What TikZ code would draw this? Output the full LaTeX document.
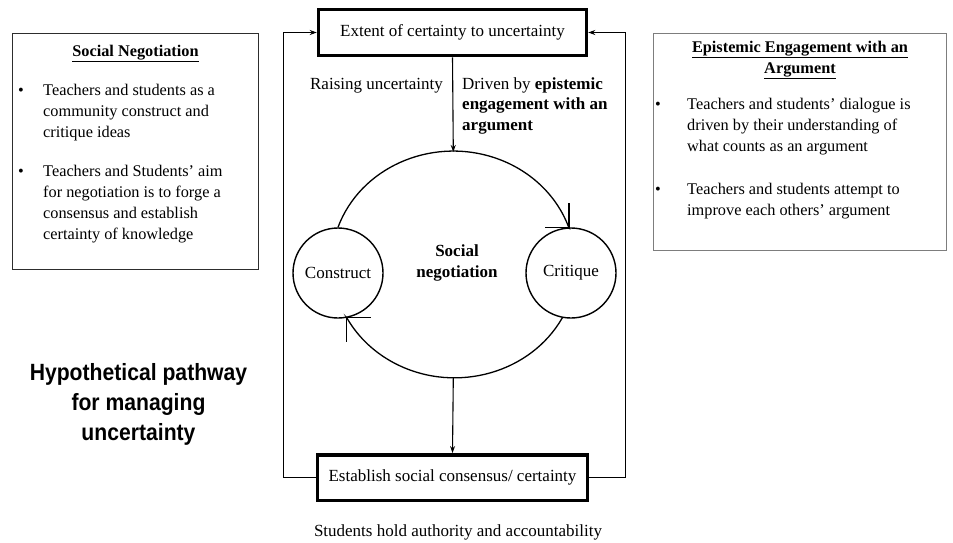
\documentclass[tikz,border=0pt]{standalone}
\usepackage{fontspec}
\setmainfont{Liberation Serif}
\newfontfamily\condsans[FakeStretch=0.9]{Liberation Sans}
\usepackage{tikz}
\usetikzlibrary{arrows.meta,positioning}
\usepackage{xcolor}
\definecolor{inkgray}{RGB}{45,45,45}
\definecolor{boxgray}{RGB}{125,125,125}
\tikzstyle{flow} = [line width=1.1pt,-{Stealth[length=7pt,width=5pt]}]
\tikzstyle{loopline} = [line width=1.3pt,-{Straight Barb[angle=90:24pt]}]
\tikzstyle{stagebox} = [draw,line width=3.5pt,inner sep=0pt,font=\fontsize{17}{20.5}\selectfont]
\tikzstyle{phase} = [draw,circle,line width=1.4pt,minimum size=90pt,inner sep=0pt,fill=white,font=\fontsize{17}{20.5}\selectfont]
\tikzstyle{notebox} = [draw,line width=1.2pt,inner sep=0pt]
\tikzstyle{notetext} = [anchor=north west,align=left,inner sep=0pt,font=\fontsize{16.3}{21}\selectfont]
\tikzstyle{midtext} = [inner sep=0pt,font=\fontsize{17}{20.5}\selectfont]

\begin{document}
\begin{tikzpicture}[x=1pt,y=-1pt]
\useasboundingbox (0,0) rectangle (953,542);

% Central pathway
\node[stagebox,minimum width=268pt,minimum height=46pt] (top) at (452.5,32.5) {Extent of certainty to uncertainty};
\node[stagebox,minimum width=270pt,minimum height=45.5pt] (bot) at (452.5,477.5) {Establish social consensus/ certainty};

\node[phase] (cons) at (338,273) {Construct};
\node[phase] (crit) at (571,273) {Critique};
\node[midtext,align=center,font=\fontsize{17}{20.5}\selectfont\bfseries] (neg) at (457,263) {Social\\negotiation};

\coordinate (ctop) at (453.3,152);
\coordinate (cbot) at (453.3,378);

% Negotiation loop
\draw[loopline] (cons.north) arc[start angle=161,end angle=19,x radius=122pt,y radius=113pt] -- ++(0.8,0.8);
\draw[loopline] (crit.259) arc[start angle=-28,end angle=-152,x radius=122pt,y radius=113pt] -- ++(-0.8,-0.8);

\draw[flow] (top.south) -- (ctop);
\draw[flow] (cbot) -- (bot.north);
\draw[flow] (bot.west) -- ++(-32,0) |- (top.west);
\draw[flow] (bot.east) -- ++(36,0) |- (top.east);

\node[midtext,anchor=base east] (raise) at (443,89) {Raising uncertainty};
\node[midtext,anchor=north west,align=left] (drive) at (462,77.4) {Driven by \textbf{epistemic}\\\textbf{engagement with an}\\\textbf{argument}};
\node[midtext,anchor=base] (auth) at (458,536) {Students hold authority and accountability};

% Social negotiation box
\node[notebox,draw=inkgray,minimum width=245.8pt,minimum height=235.8pt] (snbox) at (135.5,151.5) {};
\node[notetext,anchor=base] (snhead) at (135.5,56) {\textbf{\underline{Social Negotiation}}};
\node[notetext,anchor=base] (snb1) at (21,95) {\textbullet};
\node[notetext] (sn1) at (43,83.9) {Teachers and students as a\\community construct and\\critique ideas};
\node[notetext,anchor=base] (snb2) at (21,176) {\textbullet};
\node[notetext] (sn2) at (43,164.9) {Teachers and Students' aim\\for negotiation is to forge a\\consensus and establish\\certainty of knowledge};

% Epistemic engagement box
\node[notebox,draw=boxgray,minimum width=293pt,minimum height=217pt] (eebox) at (800,142) {};
\node[notetext,anchor=north,align=center] (eehead) at (800,41) {\textbf{\underline{Epistemic Engagement with an}}\\\textbf{\underline{Argument}}};
\node[notetext,anchor=base] (eeb1) at (658,109) {\textbullet};
\node[notetext] (ee1) at (687,97.9) {Teachers and students' dialogue is\\driven by their understanding of\\what counts as an argument};
\node[notetext,anchor=base] (eeb2) at (658,194) {\textbullet};
\node[notetext] (ee2) at (687,182.9) {Teachers and students attempt to\\improve each others' argument};

% Title
\node[anchor=north,align=center,inner sep=0pt,font=\condsans\bfseries\fontsize{23.5}{30}\selectfont] (title) at (138.5,363) {Hypothetical pathway\\for managing\\uncertainty};
\end{tikzpicture}
\end{document}
